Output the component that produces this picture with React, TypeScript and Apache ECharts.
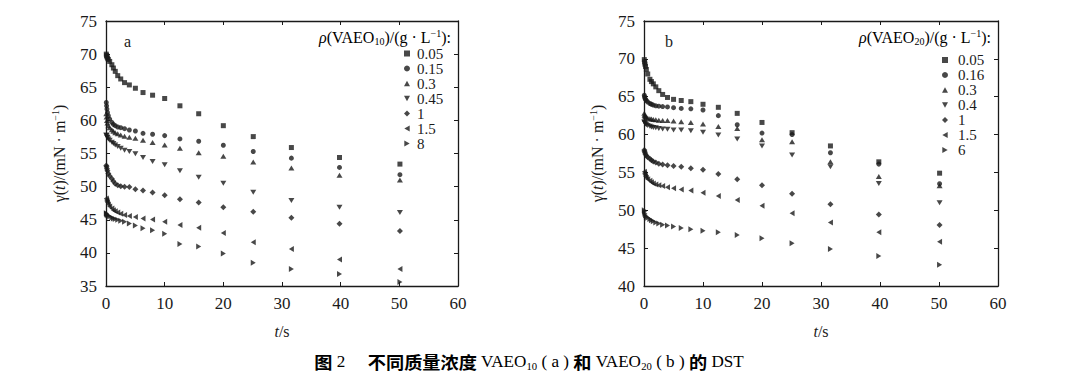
import React, { useEffect, useRef } from 'react';
import * as echarts from 'echarts';

// Time points (s), shared by all series
const times = [0.05, 0.1, 0.16, 0.25, 0.4, 0.63, 1, 1.26, 1.58, 2, 2.51, 3.16, 3.98, 5.01, 6.31, 7.94, 10, 12.6, 15.8, 20, 25.1, 31.6, 39.8, 50.1];

// Panel a: VAEO10 concentrations (g/L)
const labelsA = ['0.05', '0.15', '0.3', '0.45', '1', '1.5', '8'];
const a005 = [70.0, 69.8, 69.6, 69.4, 69.2, 68.9, 68.4, 67.9, 67.4, 66.75, 66.25, 65.7, 65.35, 64.85, 64.2, 63.8, 63.3, 62.2, 61.0, 59.2, 57.55, 55.9, 54.4, 53.4];
const a015 = [62.7, 62.2, 61.7, 61.2, 60.7, 60.2, 59.7, 59.4, 59.2, 59.0, 58.9, 58.75, 58.55, 58.4, 58.05, 57.9, 57.7, 57.2, 56.85, 56.25, 55.3, 54.3, 52.9, 51.8];
const a03 = [61.0, 60.5, 60.0, 59.6, 59.2, 58.9, 58.6, 58.35, 58.15, 58.0, 57.8, 57.6, 57.45, 57.3, 57.0, 56.65, 56.3, 55.8, 55.1, 54.6, 53.7, 52.8, 51.7, 51.0];
const a045 = [57.8, 57.7, 57.5, 57.4, 57.2, 57.0, 56.7, 56.5, 56.3, 56.05, 55.8, 55.5, 55.3, 54.95, 54.4, 53.8, 53.3, 52.4, 51.4, 50.5, 49.15, 47.9, 46.9, 46.1];
const a1 = [53.2, 53.0, 52.7, 52.4, 52.0, 51.6, 51.2, 50.8, 50.45, 50.2, 50.05, 50.0, 49.95, 49.6, 49.4, 49.1, 48.7, 48.1, 47.6, 46.9, 46.2, 45.3, 44.4, 43.3];
const a15 = [48.2, 48.0, 47.8, 47.6, 47.3, 47.0, 46.7, 46.45, 46.3, 46.1, 45.9, 45.7, 45.55, 45.4, 45.2, 45.05, 44.7, 44.2, 43.8, 43.0, 41.6, 40.6, 39.0, 37.55];
const a8 = [46.0, 45.9, 45.8, 45.7, 45.6, 45.5, 45.35, 45.2, 45.1, 45.0, 44.85, 44.7, 44.45, 44.15, 43.7, 43.4, 42.9, 41.35, 40.95, 39.9, 38.5, 37.55, 36.8, 35.6];

// Panel b: VAEO20 concentrations (g/L)
const labelsB = ['0.05', '0.16', '0.3', '0.4', '1', '1.5', '6'];
const b005 = [69.9, 69.6, 69.3, 69.0, 68.6, 68.0, 67.3, 67.0, 66.7, 66.3, 65.8, 65.3, 64.9, 64.65, 64.5, 64.35, 64.0, 63.6, 62.8, 61.6, 60.25, 58.5, 56.4, 54.9];
const b016 = [65.2, 65.0, 64.8, 64.65, 64.5, 64.3, 64.1, 64.0, 63.9, 63.8, 63.75, 63.7, 63.65, 63.55, 63.45, 63.4, 63.25, 62.5, 61.3, 60.2, 60.0, 57.6, 56.1, 53.5];
const b03 = [62.8, 62.6, 62.5, 62.4, 62.3, 62.2, 62.1, 62.05, 62.0, 61.95, 61.9, 61.85, 61.85, 61.8, 61.7, 61.6, 61.4, 61.05, 60.8, 59.3, 59.05, 56.4, 54.45, 53.25];
const b04 = [61.7, 61.6, 61.5, 61.4, 61.3, 61.2, 61.1, 61.0, 60.95, 60.9, 60.8, 60.75, 60.7, 60.6, 60.6, 60.5, 60.3, 59.95, 59.4, 58.5, 57.3, 55.75, 53.55, 51.0];
const b1 = [57.95, 57.8, 57.6, 57.4, 57.2, 57.0, 56.8, 56.6, 56.45, 56.3, 56.15, 56.05, 55.95, 55.85, 55.75, 55.55, 55.35, 54.8, 54.1, 53.3, 52.2, 50.8, 49.45, 48.05];
const b15 = [55.1, 54.9, 54.7, 54.5, 54.3, 54.1, 53.9, 53.7, 53.55, 53.4, 53.3, 53.2, 53.05, 52.9, 52.75, 52.6, 52.3, 51.9, 51.35, 50.6, 49.6, 48.4, 47.1, 45.85];
const b6 = [50.0, 49.8, 49.55, 49.35, 49.15, 49.0, 48.85, 48.7, 48.55, 48.4, 48.25, 48.1, 48.0, 47.85, 47.65, 47.5, 47.3, 47.1, 46.75, 46.3, 45.65, 44.9, 43.95, 42.8];

const seriesA = [a005, a015, a03, a045, a1, a15, a8];
const seriesB = [b005, b016, b03, b04, b1, b15, b6];

const symbols = [
  'rect',
  'circle',
  'path://M5,0L10,9L0,9Z',
  'path://M0,0L10,0L5,9Z',
  'diamond',
  'path://M9,0L9,10L0,5Z',
  'path://M0,0L9,5L0,10Z',
];
const sizes: any[] = [5, 5, [6, 5], [6, 5], 6, [5, 6], [5, 6]];

const SERIF = 'Liberation Serif';
const INK = '#1a1a1a';

export default function App() {
  const ref = useRef<HTMLDivElement>(null);
  useEffect(() => {
    if (!ref.current) return;
    const chart = echarts.init(ref.current, undefined, { renderer: 'svg' });

    const richBase = {
      n: { fontFamily: SERIF, fontSize: 16, color: INK, lineHeight: 18 },
      i: { fontFamily: SERIF, fontSize: 16, color: INK, fontStyle: 'italic', lineHeight: 18 },
      sup: { fontFamily: SERIF, fontSize: 10, color: INK, verticalAlign: 'top', lineHeight: 10 },
      sub: { fontFamily: SERIF, fontSize: 10, color: INK, verticalAlign: 'bottom', lineHeight: 10 },
    };

    const mkX = (grid: number, bottom: boolean) => ({
      type: 'value',
      gridIndex: grid,
      position: bottom ? 'bottom' : 'top',
      min: 0,
      max: 60,
      interval: 10,
      axisLine: { show: true, onZero: false, lineStyle: { color: INK, width: 1.3 } },
      axisTick: { show: true, inside: true, length: 4, lineStyle: { color: INK, width: 1 } },
      axisLabel: { show: bottom, fontFamily: SERIF, fontSize: 17, color: INK, margin: 9 },
      splitLine: { show: false },
      name: bottom ? '{i|t}{n|/s}' : '',
      nameLocation: 'middle',
      nameGap: 36,
      nameTextStyle: { rich: richBase },
    });
    const mkY = (grid: number, left: boolean, min: number) => ({
      type: 'value',
      gridIndex: grid,
      position: left ? 'left' : 'right',
      min,
      max: 75,
      interval: 5,
      axisLine: { show: true, onZero: false, lineStyle: { color: INK, width: 1.3 } },
      axisTick: { show: true, inside: true, length: 4, lineStyle: { color: INK, width: 1 } },
      axisLabel: { show: left, fontFamily: SERIF, fontSize: 17, color: INK, margin: 9 },
      splitLine: { show: false },
      name: left ? '{n|γ(}{i|t}{n|)/(mN · m}{sup|−1}{n|)}' : '',
      nameLocation: 'middle',
      nameGap: 38,
      nameTextStyle: { rich: richBase },
    });

    const series: any[] = [];
    seriesA.forEach((vals, k) => {
      series.push({
        type: 'scatter',
        name: 'a|' + labelsA[k],
        xAxisIndex: 0,
        yAxisIndex: 0,
        symbol: symbols[k],
        symbolSize: sizes[k],
        itemStyle: { color: INK },
        data: times.map((t, j) => [t, vals[j]]),
      });
    });
    seriesB.forEach((vals, k) => {
      series.push({
        type: 'scatter',
        name: 'b|' + labelsB[k],
        xAxisIndex: 2,
        yAxisIndex: 2,
        symbol: symbols[k],
        symbolSize: sizes[k],
        itemStyle: { color: INK },
        data: times.map((t, j) => [t, vals[j]]),
      });
    });

    const legendBase = {
      orient: 'vertical',
      padding: 0,
      itemWidth: 6,
      itemHeight: 6,
      itemGap: 0,
      selectedMode: false,
      formatter: (n: string) => n.split('|')[1],
    };

    chart.setOption({
      animation: false,
      backgroundColor: '#fff',
      grid: [
        { left: 106, top: 21, width: 352, height: 265 },
        { left: 644, top: 21, width: 354, height: 265 },
      ],
      xAxis: [mkX(0, true), mkX(0, false), mkX(1, true), mkX(1, false)],
      yAxis: [mkY(0, true, 35), mkY(0, false, 35), mkY(1, true, 40), mkY(1, false, 40)],
      legend: [
        {
          ...legendBase,
          left: 404,
          top: 46,
          textStyle: { fontFamily: SERIF, fontSize: 15, color: INK, padding: [0, 0, 0, 2] },
          data: labelsA.map((l) => 'a|' + l),
        },
        {
          ...legendBase,
          left: 942,
          top: 52.5,
          textStyle: { fontFamily: SERIF, fontSize: 15, color: INK, padding: [0, 0, 0, 5] },
          data: labelsB.map((l) => 'b|' + l),
        },
      ],
      graphic: [
        { type: 'text', left: 124, top: 33, style: { text: 'a', font: '16px ' + SERIF, fill: INK } },
        { type: 'text', left: 665, top: 33, style: { text: 'b', font: '16px ' + SERIF, fill: INK } },
        {
          type: 'text',
          x: 451,
          y: 37,
          style: {
            text: '{i|ρ}{n|(VAEO}{sub|10}{n|)/(g · L}{sup|−1}{n|):}',
            rich: richBase,
            align: 'right',
            verticalAlign: 'middle',
          },
        },
        {
          type: 'text',
          x: 991,
          y: 37,
          style: {
            text: '{i|ρ}{n|(VAEO}{sub|20}{n|)/(g · L}{sup|−1}{n|):}',
            rich: richBase,
            align: 'right',
            verticalAlign: 'middle',
          },
        },
        {
          type: 'text',
          x: 529,
          y: 362,
          scaleX: 1.07,
          style: {
            text: '{c|图}{l| 2}{c|　}{l| }{c|不同质量浓度}{l| VAEO}{s|10}{l| ( a ) }{c|和}{l| VAEO}{s|20}{l| ( b ) }{c|的}{l| DST}',
            rich: {
              c: { fontFamily: 'Noto Sans CJK SC', fontWeight: 'bold', fontSize: 17, color: INK, lineHeight: 20 },
              l: { fontFamily: SERIF, fontSize: 16, color: INK, lineHeight: 20 },
              s: { fontFamily: SERIF, fontSize: 10, color: INK, verticalAlign: 'bottom', lineHeight: 12 },
            },
            align: 'center',
            verticalAlign: 'middle',
          },
        },
      ],
      series,
    });
    return () => chart.dispose();
  }, []);
  return (
    <div
      ref={ref}
      style={{ position: 'absolute', left: 0, top: 0, width: 1066, height: 382, background: '#fff' }}
    />
  );
}
